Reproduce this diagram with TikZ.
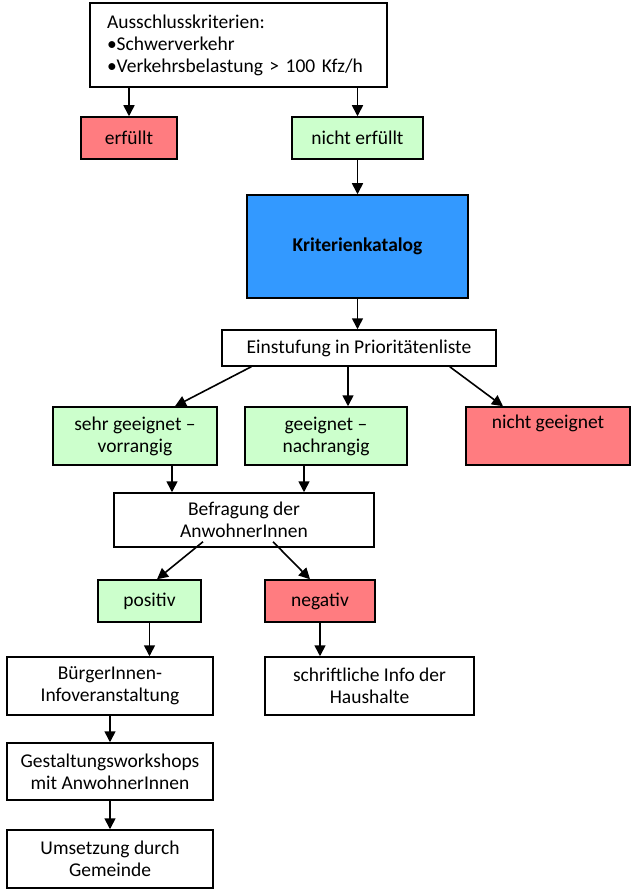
\documentclass[tikz,border=0pt]{standalone}
\usepackage{fontspec}
\setmainfont{Carlito}
\usetikzlibrary{arrows.meta, positioning}
\definecolor{badred}{HTML}{FF7C80}
\definecolor{goodgreen}{HTML}{CCFFCC}
\definecolor{katblue}{HTML}{3399FF}

\begin{document}
\begin{tikzpicture}[
    x=1pt, y=-1pt,
    block/.style={
        rectangle,
        draw=black,
        line width=1.5pt,
        fill=white,
        align=center,
        inner sep=2pt,
        font=\fontsize{19.5}{22}\selectfont
    },
    goodbox/.style={
        block,
        fill=goodgreen
    },
    badbox/.style={
        block,
        fill=badred
    },
    arrow/.style={
        -{Triangle[length=11pt, width=11pt]},
        line width=1.6pt,
        black
    }
]
\useasboundingbox (0,0) rectangle (631,890);

\node[block, align=left, text width=263pt, inner xsep=17pt,
    minimum height=84pt] (ausschluss) at (238.5,45)
    {Ausschlusskriterien:\\\textbullet Schwerverkehr\\\textbullet Verkehrsbelastung > 100 Kfz/h};
\node[badbox, minimum width=96pt, minimum height=42pt] (erfuellt) at (129,138) {erfüllt};
\node[goodbox, minimum width=131pt, minimum height=42pt] (nichterfuellt) at (357.5,138) {nicht erfüllt};
\node[block, fill=katblue, minimum width=221pt, minimum height=103pt,
    font=\fontsize{19.5}{22}\selectfont\bfseries] (katalog) at (357.5,246.5) {Kriterienkatalog};
\node[block, minimum width=274pt, minimum height=36pt] (einstufung) at (359,348) {Einstufung in Prioritätenliste};

\node[goodbox, minimum width=164pt, minimum height=58pt] (sehrgeeignet) at (135,436) {sehr geeignet --\\vorrangig};
\node[goodbox, minimum width=162pt, minimum height=58pt] (geeignet) at (326,436) {geeignet --\\nachrangig};
\node[badbox, minimum width=164pt, minimum height=58pt] (nichtgeeignet) at (548,436) {nicht geeignet\\\strut};

\node[block, minimum width=260pt, minimum height=54pt] (befragung) at (244,520) {Befragung der\\AnwohnerInnen};
\node[goodbox, minimum width=103pt, minimum height=42pt] (positiv) at (149.5,601) {positiv};
\node[badbox, minimum width=110pt, minimum height=42pt] (negativ) at (320,601) {negativ};

\node[block, minimum width=206pt, minimum height=58pt] (buerger) at (110,686) {BürgerInnen-\\Infoveranstaltung};
\node[block, minimum width=209pt, minimum height=58pt] (haushalte) at (369.5,686) {schriftliche Info der\\Haushalte};
\node[block, minimum width=206pt, minimum height=57pt] (workshops) at (110,771.5) {Gestaltungsworkshops\\mit AnwohnerInnen};
\node[block, minimum width=206pt, minimum height=58pt] (umsetzung) at (110,859) {Umsetzung durch\\Gemeinde};

\draw[arrow] (erfuellt.north |- ausschluss.south) -- (erfuellt.north);
\draw[arrow] (nichterfuellt.north |- ausschluss.south) -- (nichterfuellt.north);
\draw[arrow] (nichterfuellt) -- (katalog);
\draw[arrow] (katalog.south) -- (einstufung.north -| katalog.south);

\draw[arrow] ([xshift=30pt]einstufung.south west) -- ([xshift=40pt]sehrgeeignet.north);
\draw[arrow] ([xshift=22pt]geeignet.north |- einstufung.south) -- ([xshift=22pt]geeignet.north);
\draw[arrow] ([xshift=-47pt]einstufung.south east) -- ([xshift=-45pt]nichtgeeignet.north);

\draw[arrow] ([xshift=37pt]sehrgeeignet.south) -- ([xshift=37pt]sehrgeeignet.south |- befragung.north);
\draw[arrow] ([xshift=-22pt]geeignet.south) -- ([xshift=-22pt]geeignet.south |- befragung.north);

\draw[arrow] ([xshift=-41pt,yshift=6pt]befragung.south) -- ([xshift=7.5pt]positiv.north);
\draw[arrow] ([xshift=29pt,yshift=6pt]befragung.south) -- ([xshift=-10pt]negativ.north);

\draw[arrow] (positiv) -- (positiv |- buerger.north);
\draw[arrow] (negativ) -- (negativ |- haushalte.north);
\draw[arrow] (buerger) -- (workshops);
\draw[arrow] (workshops) -- (umsetzung);

\end{tikzpicture}
\end{document}
